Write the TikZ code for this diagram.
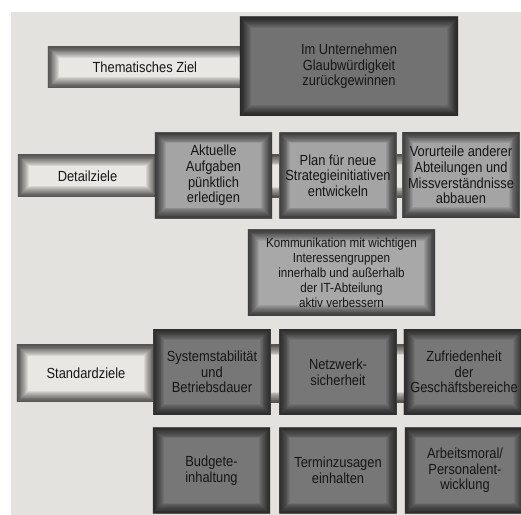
\documentclass[tikz,border=0pt]{standalone}
\usepackage{fontspec}
\setmainfont{Liberation Sans}[FakeStretch=0.88]
\usepackage{tikz}
\usetikzlibrary{positioning}
\definecolor{paper}{HTML}{E3E2DE}
\definecolor{labelfill}{HTML}{E8E7E3}
\definecolor{darkfill}{HTML}{727272}
\definecolor{midfill}{HTML}{A4A4A4}
\definecolor{kommfill}{HTML}{A8A8A8}
\definecolor{stdfill}{HTML}{777777}
\definecolor{inkcol}{HTML}{161616}
\tikzset{
  shaded edge/.style={path picture={
      \foreach \w in {1.5,3,...,18}
        \draw[black,opacity=0.075,line width=\w pt] (path picture bounding box.south west) rectangle (path picture bounding box.north east);}},
  boxtext/.style={font=\fontsize{12.5}{13.4}\selectfont, text=inkcol, align=center, inner sep=0pt},
  labelbox/.style={boxtext, shaded edge, fill=labelfill, minimum height=#1},
  tile/.style={boxtext, shaded edge, fill=#1, minimum width=3.51cm, minimum height=2.56cm},
}
\begin{document}
\begin{tikzpicture}[line cap=round,line join=round,x=0.03cm,y=-0.03cm]
		\useasboundingbox (0,0) rectangle (521,515);
		\clip (0,0) rectangle (521,515);
		\fill [white] (0,0) rectangle (521,515);
		\fill [paper] (11,12) rectangle (521,515);
		\node [labelbox=1.23cm, minimum width=6.06cm] (themlabel) at (149,67.5) {\hspace*{-0.25cm}Thematisches Ziel};
		\node [tile=darkfill, minimum width=6.54cm, minimum height=2.97cm] (goal) at (349,66.5) {Im Unternehmen\\Glaubwürdigkeit\\zurückgewinnen};
		\node [labelbox=1.26cm, minimum width=4.17cm] (detlabel) at (87.5,176) {Detailziele};
		\node [tile=midfill] (det3) at (461,175) {};
		\path [shaded edge, fill=labelfill] (detlabel.north east) rectangle (det3.center |- detlabel.south);
		\node [tile=midfill] (det1) at (213.5,175.5) {Aktuelle\\Aufgaben\\pünktlich\\erledigen};
		\node [tile=midfill] (det2) at (338,175.5) {Plan für neue\\Strategieinitiativen\\entwickeln};
		\node [tile=midfill] (det3) at (461,175) {Vorurteile anderer\\Abteilungen und\\Missverständnisse\\abbauen};
		\node [tile=kommfill, minimum width=5.61cm, minimum height=2.58cm, font=\fontsize{11.3}{12.8}\selectfont] (komm) at (341.5,273) {Kommunikation mit wichtigen\\Interessengruppen\\innerhalb und außerhalb\\der IT-Abteilung\\aktiv verbessern};
		\node [labelbox=1.71cm, minimum width=4.14cm] (stdlabel) at (86,373.5) {Standardziele};
		\node [tile=stdfill, minimum width=3.6cm] (std3) at (464,372) {};
		\path [shaded edge, fill=labelfill] (stdlabel.north east) rectangle (std3.center |- stdlabel.south);
		\node [tile=stdfill] (std1) at (212,372) {Systemstabilität\\und\\Betriebsdauer};
		\node [tile=stdfill] (std2) at (338,372) {Netzwerk-\\sicherheit};
		\node [tile=stdfill, minimum width=3.6cm] (std3) at (464,372) {Zufriedenheit\\der\\Geschäftsbereiche};
		\node [tile=stdfill] (bud) at (211.5,470.5) {Budgete-\\inhaltung};
		\node [tile=stdfill] (term) at (338,470.5) {Terminzusagen\\einhalten};
		\node [tile=stdfill, minimum width=3.6cm] (moral) at (465,470.5) {Arbeitsmoral/\\Personalent-\\wicklung};
	\end{tikzpicture}
\end{document}
